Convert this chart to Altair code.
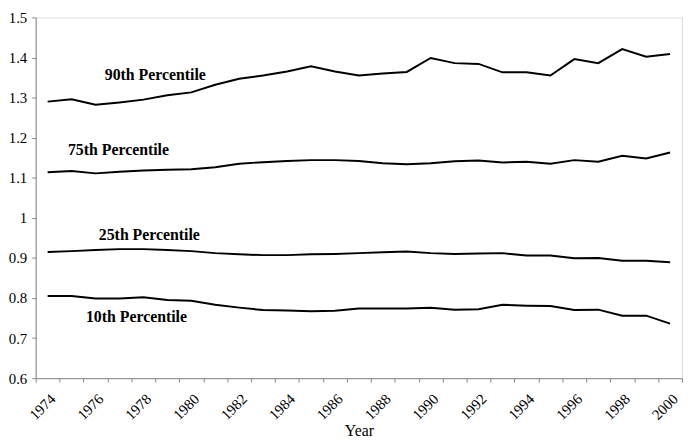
import altair as alt
import pandas as pd

years = list(range(1974, 2001))

p90 = [1.290, 1.296, 1.282, 1.288, 1.295, 1.306, 1.313, 1.332, 1.347, 1.355,
       1.365, 1.378, 1.365, 1.355, 1.360, 1.364, 1.399, 1.386, 1.384, 1.363,
       1.363, 1.355, 1.396, 1.386, 1.421, 1.402, 1.409]
p75 = [1.114, 1.117, 1.111, 1.115, 1.118, 1.120, 1.121, 1.126, 1.135, 1.139,
       1.142, 1.144, 1.144, 1.142, 1.136, 1.134, 1.136, 1.141, 1.143, 1.138,
       1.140, 1.135, 1.144, 1.140, 1.155, 1.148, 1.163]
p25 = [0.915, 0.917, 0.920, 0.922, 0.922, 0.920, 0.917, 0.912, 0.909, 0.907,
       0.907, 0.909, 0.910, 0.912, 0.914, 0.916, 0.912, 0.910, 0.911, 0.912,
       0.906, 0.906, 0.899, 0.900, 0.893, 0.893, 0.889]
p10 = [0.805, 0.805, 0.799, 0.799, 0.802, 0.795, 0.793, 0.783, 0.776, 0.770,
       0.769, 0.767, 0.768, 0.774, 0.774, 0.774, 0.776, 0.771, 0.772, 0.783,
       0.781, 0.780, 0.770, 0.771, 0.756, 0.756, 0.736]

series_names = ["90th Percentile", "75th Percentile", "25th Percentile", "10th Percentile"]
label_years = [1978, 1977, 1978, 1978]
label_values = [1.356, 1.169, 0.958, 0.752]
label_dx = [12, -1, 6, -7]
y_ticks = [0.6, 0.7, 0.8, 0.9, 1.0, 1.1, 1.2, 1.3, 1.4, 1.5]

rows = []
for name, vals in zip(series_names, [p90, p75, p25, p10]):
    for yr, v in zip(years, vals):
        rows.append({"year": yr, "value": v, "series": name})
df = pd.DataFrame(rows)

FONT = "Liberation Serif"
AX = "#868686"

xscale = alt.Scale(type="band", domain=years, paddingInner=0, paddingOuter=0)
yscale = alt.Scale(domain=[0.6, 1.5], nice=False, zero=False)

lines = alt.Chart(df).mark_line(color="black", strokeWidth=2).encode(
    x=alt.X("year:O", scale=xscale, bandPosition=0.5,
            axis=alt.Axis(title="Year", tickBand="extent", labelAngle=-45,
                          labelExpr="datum.value % 2 == 0 ? datum.label : ''",
                          labelFont=FONT, labelFontSize=15, labelColor="black",
                          titleFont=FONT, titleFontSize=16, titleFontWeight="normal",
                          titleColor="black", titlePadding=0,
                          domainColor=AX, tickColor=AX, tickSize=4, labelPadding=9,
                          grid=False)),
    y=alt.Y("value:Q", scale=yscale,
            axis=alt.Axis(title=None, values=y_ticks, format=".1~f",
                          labelFont=FONT, labelFontSize=15, labelColor="black",
                          domainColor=AX, tickColor=AX, tickSize=4, labelPadding=5,
                          grid=False)),
    detail="series:N",
)

lab_df = pd.DataFrame({"year": label_years, "value": label_values,
                       "text": series_names, "dx": label_dx})

texts = []
for i in range(len(series_names)):
    t = alt.Chart(lab_df.iloc[[i]]).mark_text(
        font=FONT, fontSize=16, fontWeight="bold", color="black",
        align="center", baseline="middle", dx=label_dx[i]
    ).encode(
        x=alt.X("year:O", scale=xscale, bandPosition=0.5),
        y=alt.Y("value:Q", scale=yscale),
        text="text:N",
    )
    texts.append(t)

chart = alt.layer(lines, *texts).properties(
    width=654, height=365,
    autosize=alt.AutoSizeParams(type="none"),
    padding={"left": 28, "top": 7, "right": 5, "bottom": 61},
).configure_view(stroke=None).configure(background="white")

chart.save("out.html", embed_options={"renderer": "svg", "actions": False})
